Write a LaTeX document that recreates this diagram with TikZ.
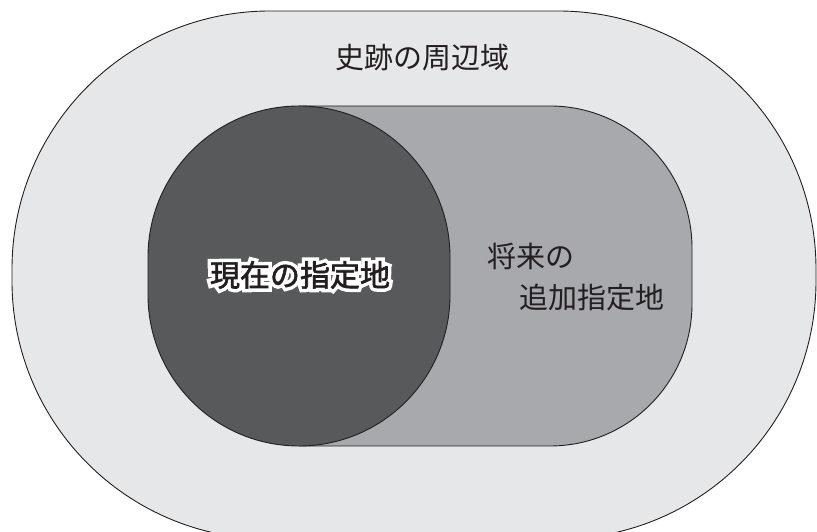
\documentclass[tikz,border=0pt]{standalone}
\usepackage{fontspec}
\newfontfamily\cjk{Noto Sans CJK JP}
\newfontfamily\cjkhalo[FakeBold=25]{Noto Sans CJK JP}
\newfontfamily\cjkbold[FakeBold=2]{Noto Sans CJK JP}
\definecolor{outerc}{HTML}{E6E7E8}
\definecolor{midc}{HTML}{A7A9AC}
\definecolor{darkc}{HTML}{58595B}
\definecolor{inkc}{HTML}{231F20}
\begin{document}
\begin{tikzpicture}[x=1pt,y=1pt,
  region/.style={draw=inkc,line width=0.9pt},
  label/.style={inner sep=0pt,font=\fontsize{29}{32}\selectfont\cjk,text=inkc},
  halo/.style={inner sep=0pt,font=\fontsize{30}{32}\selectfont\cjkhalo,text=white}]
\useasboundingbox (0,0) rectangle (817,532);
\begin{scope}
\clip (0,0) rectangle (817,532);
\draw[region,fill=outerc,rounded corners=258pt] (12,-7) rectangle (816,521);
\end{scope}
\draw[region,fill=midc] (299,86) -- (299,426) -- (550,426)
  arc[start angle=90,end angle=0,radius=142] -- (692,228)
  arc[start angle=0,end angle=-90,radius=142] -- cycle;
\draw[region,fill=darkc,rounded corners=151pt] (148,86) rectangle (450,426);
\node[label] (outer) at (422,474) {史跡の周辺域};
\node[label,anchor=west] (fut1) at (487,276) {将来の};
\node[label,anchor=west] (fut2) at (519,234) {追加指定地};
\node[halo] (curhalo) at (300,257) {現在の指定地};
\node[inner sep=0pt,font=\fontsize{30}{32}\selectfont\cjkbold,text=inkc] (cur) at (300,257) {現在の指定地};
\end{tikzpicture}
\end{document}
